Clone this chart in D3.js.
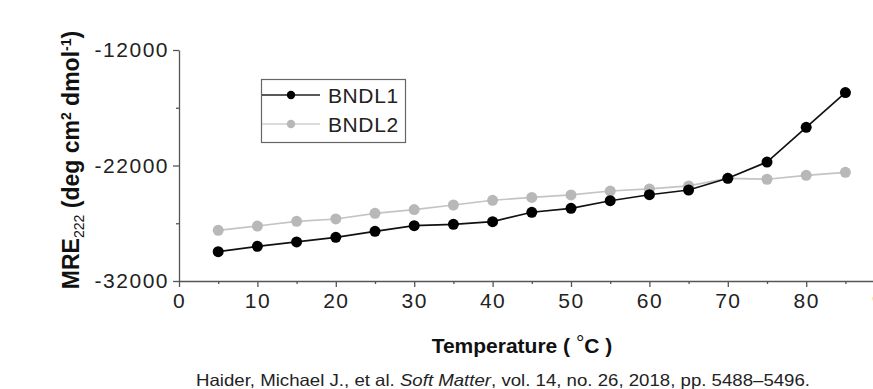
<!DOCTYPE html>
<html>
<head>
<meta charset="utf-8">
<script src="https://cdn.jsdelivr.net/npm/d3@7"></script>
<style>
  body { margin: 0; background: #fff; }
  svg { display: block; font-family: "Liberation Sans", Arial, sans-serif; }
</style>
</head>
<body>
<div id="chart"></div>
<script>
// data
const temperatures = [5, 10, 15, 20, 25, 30, 35, 40, 45, 50, 55, 60, 65, 70, 75, 80, 85];
const bndl1 = [-29460, -29000, -28620, -28220, -27700, -27210, -27090, -26860, -26050,
  -25710, -25050, -24530, -24120, -23110, -21700, -18690, -15690];
const bndl2 = [-27610, -27240, -26830, -26630, -26140, -25820, -25420, -25010, -24760,
  -24550, -24210, -24030, -23770, -23110, -23190, -22850, -22590];
const seriesNames = ['BNDL1', 'BNDL2'];
const xTicks = [0, 10, 20, 30, 40, 50, 60, 70, 80, 90];
const xMinorTicks = [5, 15, 25, 35, 45, 55, 65, 75, 85];
const yTicks = [-32000, -22000, -12000];
const yMinorTicks = [-27000, -17000];

const width = 873, height = 389;

const svg = d3.select('#chart')
  .append('svg')
  .attr('width', width)
  .attr('height', height);

// scales (x axis runs off the right edge, like the original)
const x = d3.scaleLinear().domain([0, 90]).range([179, 884.6]);
const y = d3.scaleLinear().domain([-32000, -12000]).range([281, 50]);

const axisColor = '#555';

// x axis
svg.append('g')
  .attr('transform', `translate(0,${y(-32000)})`)
  .call(d3.axisBottom(x).tickValues(xTicks).tickSize(6).tickPadding(6)
    .tickFormat(d => String(d)).tickSizeOuter(0));
svg.append('g')
  .attr('transform', `translate(0,${y(-32000)})`)
  .call(d3.axisBottom(x).tickValues(xMinorTicks).tickSize(3).tickFormat(''))
  .call(g => g.select('.domain').remove());

// y axis
svg.append('g')
  .attr('transform', `translate(${x(0)},0)`)
  .call(d3.axisLeft(y).tickValues(yTicks).tickSize(6).tickPadding(4)
    .tickFormat(d => String(d)).tickSizeOuter(0));
svg.append('g')
  .attr('transform', `translate(${x(0)},0)`)
  .call(d3.axisLeft(y).tickValues(yMinorTicks).tickSize(3).tickFormat(''))
  .call(g => g.select('.domain').remove());

svg.selectAll('.domain, .tick line')
  .attr('stroke', axisColor)
  .attr('stroke-width', 1.3);
svg.selectAll('.tick text')
  .attr('fill', '#222')
  .style('font-size', '21px')
  .style('letter-spacing', '1.5px')
  .style('font-family', '"Liberation Sans", Arial, sans-serif');

// series
const series = [
  { name: seriesNames[0], values: bndl1, color: '#000', line: '#111', legendLine: '#222' },
  { name: seriesNames[1], values: bndl2, color: '#b8b8b8', line: '#c4c4c4', legendLine: '#cfcfcf' }
];

const line = d3.line()
  .x((d, i) => x(temperatures[i]))
  .y(d => y(d));

// draw gray first, black on top
series.slice().reverse().forEach(s => {
  svg.append('path')
    .datum(s.values)
    .attr('d', line)
    .attr('fill', 'none')
    .attr('stroke', s.line)
    .attr('stroke-width', 1.7);
  svg.selectAll(null)
    .data(s.values)
    .join('circle')
    .attr('cx', (d, i) => x(temperatures[i]))
    .attr('cy', d => y(d))
    .attr('r', 5.5)
    .attr('fill', s.color);
});

// legend
const legend = svg.append('g');
legend.append('rect')
  .attr('x', 261.5).attr('y', 79.5)
  .attr('width', 144).attr('height', 63)
  .attr('fill', 'none')
  .attr('stroke', '#666')
  .attr('stroke-width', 1.2);
series.forEach((s, i) => {
  const ly = 95 + i * 29;
  legend.append('line')
    .attr('x1', 262).attr('x2', 320)
    .attr('y1', ly).attr('y2', ly)
    .attr('stroke', s.legendLine)
    .attr('stroke-width', 1.3);
  legend.append('circle')
    .attr('cx', 291).attr('cy', ly).attr('r', 4.2)
    .attr('fill', s.color);
  legend.append('text')
    .attr('x', 328).attr('y', ly + 8)
    .attr('fill', '#222')
    .style('font-size', '21px')
    .style('letter-spacing', '0.6px')
    .text(s.name);
});

// x title
const xt = svg.append('text')
  .attr('x', 522).attr('y', 353)
  .attr('text-anchor', 'middle')
  .style('font-size', '21px')
  .style('font-weight', 'bold')
  .attr('fill', '#111');
xt.append('tspan').text('Temperature ( ');
xt.append('tspan').text('°').attr('dy', -3).style('font-weight', 'normal');
xt.append('tspan').text('C )').attr('dy', 3);

// y title
const yt = svg.append('text')
  .attr('transform', 'translate(79,160) rotate(-90)')
  .attr('text-anchor', 'middle')
  .style('font-size', '23px')
  .style('font-weight', 'bold')
  .attr('fill', '#111');
yt.append('tspan').text('MRE');
yt.append('tspan').text('222').attr('dy', 5).style('font-size', '14px').style('font-weight', 'normal');
yt.append('tspan').text(' (deg cm').attr('dy', -5);
yt.append('tspan').text('2').attr('dy', -8).style('font-size', '14px');
yt.append('tspan').text(' dmol').attr('dy', 8);
yt.append('tspan').text('-1').attr('dy', -8).style('font-size', '14px');
yt.append('tspan').text(')').attr('dy', 8);

// citation (the original is stretched sideways a little)
const cite = svg.append('text')
  .attr('x', 196).attr('y', 386)
  .attr('textLength', 614)
  .attr('lengthAdjust', 'spacingAndGlyphs')
  .style('font-size', '16.5px')
  .attr('fill', '#222');
cite.append('tspan').text('Haider, Michael J., et al. ');
cite.append('tspan').text('Soft Matter').style('font-style', 'italic');
cite.append('tspan').text(', vol. 14, no. 26, 2018, pp. 5488–5496.');
</script>
</body>
</html>
